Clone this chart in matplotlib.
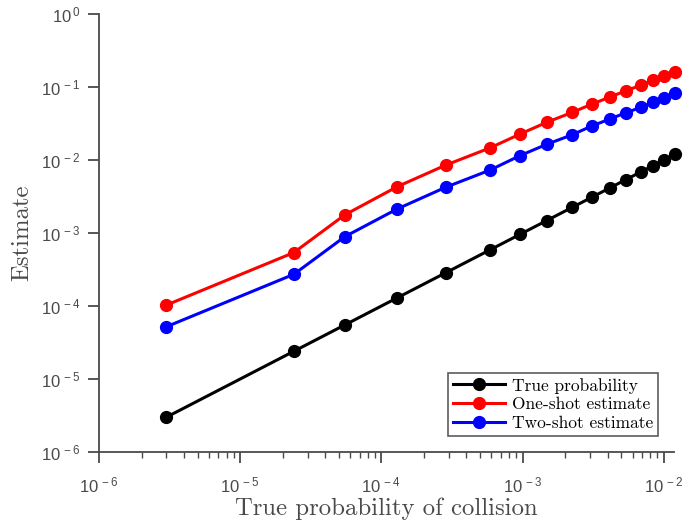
import matplotlib
matplotlib.use('Agg')
import matplotlib.pyplot as plt
from matplotlib.ticker import LogLocator, NullLocator, NullFormatter, FuncFormatter
import numpy as np

# Datos
prob_real = [3.0e-6, 2.4e-5, 5.5e-5, 1.29e-4, 2.85e-4, 5.9e-4, 9.6e-4, 1.48e-3,
             2.25e-3, 3.08e-3, 4.16e-3, 5.4e-3, 6.9e-3, 8.4e-3, 1.0e-2, 1.2e-2]
est_uno = [1.03e-4, 5.4e-4, 1.77e-3, 4.3e-3, 8.5e-3, 1.47e-2, 2.27e-2, 3.28e-2,
           4.5e-2, 5.8e-2, 7.3e-2, 8.9e-2, 0.106, 0.125, 0.143, 0.162]
est_dos = [5.2e-5, 2.72e-4, 8.9e-4, 2.13e-3, 4.23e-3, 7.3e-3, 1.15e-2, 1.64e-2,
           2.22e-2, 2.92e-2, 3.65e-2, 4.45e-2, 5.27e-2, 6.23e-2, 7.13e-2, 8.2e-2]
nombres = ['True probability', 'One-shot estimate', 'Two-shot estimate']

plt.rcParams['font.family'] = ['Liberation Sans', 'DejaVu Sans']
plt.rcParams['mathtext.default'] = 'regular'

gris = '#4a4a4a'
fig = plt.figure(figsize=(6.96, 5.25), dpi=100)
ax = fig.add_axes([99/696, 1 - 452/525, (674 - 99)/696, (452 - 14)/525])

ax.loglog(prob_real, prob_real, '-o', color='black', lw=2.2, ms=8.5, label=nombres[0], clip_on=False)
ax.loglog(prob_real, est_uno, '-o', color='red', lw=2.2, ms=8.5, label=nombres[1], clip_on=False)
ax.loglog(prob_real, est_dos, '-o', color='blue', lw=2.2, ms=8.5, label=nombres[2], clip_on=False)

ax.set_xlim(1e-6, 0.0118)
ax.set_ylim(1e-6, 1)
for lado in ['top', 'right']:
    ax.spines[lado].set_visible(False)
for lado in ['left', 'bottom']:
    ax.spines[lado].set_color(gris)
    ax.spines[lado].set_linewidth(1.3)

def potencia(v, pos):
    e = int(round(np.log10(v)))
    signo = '-' if e < 0 else ''
    return r'$10^{\,%s%d}$' % (signo, abs(e))

ax.xaxis.set_major_locator(LogLocator(base=10, numticks=10))
ax.xaxis.set_major_formatter(FuncFormatter(potencia))
ax.xaxis.set_minor_locator(LogLocator(base=10, subs=range(2, 10), numticks=20))
ax.xaxis.set_minor_formatter(NullFormatter())
ax.yaxis.set_major_locator(LogLocator(base=10, numticks=10))
ax.yaxis.set_major_formatter(FuncFormatter(potencia))
ax.yaxis.set_minor_locator(NullLocator())
ax.tick_params(which='major', direction='out', length=8, width=1.3, color=gris,
               labelcolor=gris, labelsize=12)
ax.tick_params(axis='x', which='major', pad=9)
ax.tick_params(axis='y', which='major', pad=5)
ax.tick_params(which='minor', direction='out', length=4.5, width=1.0, color=gris)

ax.set_xlabel('True probability of collision', family='cmr10', fontsize=17.8, color=gris)
ax.set_ylabel('Estimate', family='cmr10', fontsize=17.8, color=gris)
ax.xaxis.set_label_coords(0.5, -0.103)
ax.yaxis.set_label_coords(-0.115, 0.5)

leg = ax.legend(loc='lower right', prop={'family': 'cmr10', 'size': 12.5},
                frameon=True, fancybox=False, handlelength=3.0, handletextpad=0.4,
                borderaxespad=0.9, labelspacing=0.2, borderpad=0.3)
leg.get_frame().set_edgecolor('#333333')
leg.get_frame().set_linewidth(1.2)

fig.savefig('out.png', dpi=100)
